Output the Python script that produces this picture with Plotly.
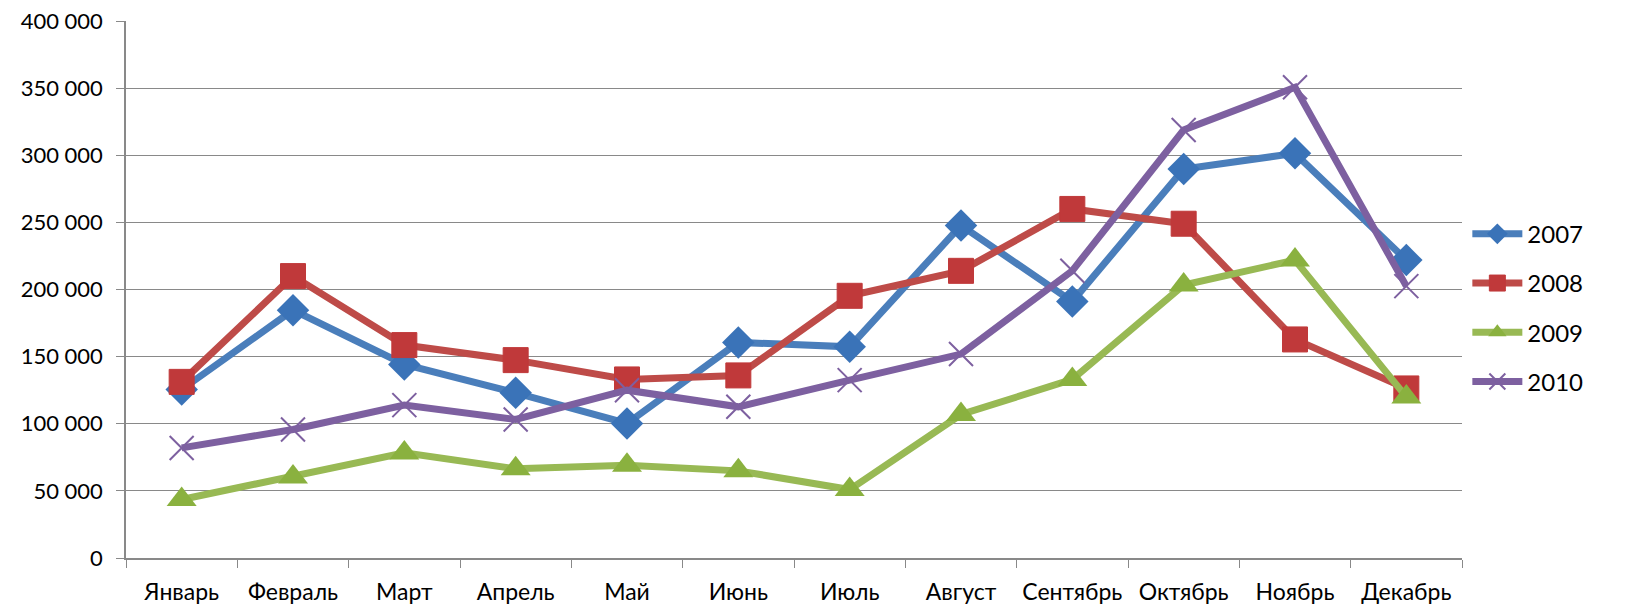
import plotly.graph_objects as go

months = ["Январь", "Февраль", "Март", "Апрель", "Май", "Июнь", "Июль",
          "Август", "Сентябрь", "Октябрь", "Ноябрь", "Декабрь"]
s2007 = [125500, 184600, 144200, 123000, 100200, 160600, 157300, 247700, 191000, 289700, 301400, 221900]
s2008 = [131200, 210000, 158600, 147400, 133000, 136000, 195300, 213900, 260000, 249000, 162800, 126300]
s2009 = [43600, 60400, 78300, 66400, 69100, 64900, 51000, 106900, 133000, 203300, 221900, 120000]
s2010 = [82000, 95700, 113900, 103200, 125000, 112600, 132500, 151900, 214000, 318800, 350600, 202500]
years = ["2007", "2008", "2009", "2010"]
y_ticks = [0, 50000, 100000, 150000, 200000, 250000, 300000, 350000, 400000]

styles = [
    dict(line="#4A7EBB", marker="#3A73B8", symbol="diamond", size=25, mline=0),
    dict(line="#BE4B48", marker="#C0393A", symbol="square", size=25, mline=1),
    dict(line="#98B954", marker="#8AB13F", symbol="triangle-up", size=26, mline=0),
    dict(line="#7D60A0", marker="#7D60A0", symbol="x-thin-open", size=24, mline=2),
]

FONT = "Lato, Roboto, sans-serif"
fig = go.Figure()
for name, vals, st in zip(years, [s2007, s2008, s2009, s2010], styles):
    fig.add_trace(go.Scatter(
        x=months, y=vals, name=name, mode="lines+markers",
        legendgroup=name,
        line=dict(color=st["line"], width=7),
        marker=dict(symbol=st["symbol"], size=st["size"], color=st["marker"],
                    line=dict(color=st["marker"], width=st["mline"])),
    ))

fig.update_layout(
    width=1626, height=607,
    margin=dict(l=118, r=172, t=13, b=57, autoexpand=False),
    paper_bgcolor="white", plot_bgcolor="white",
    separators=". ",
    font=dict(family=FONT, size=24, color="black"),
    showlegend=True,
    legend=dict(x=1.004, y=0.466, xanchor="left", yanchor="middle",
                font=dict(size=24, family=FONT), tracegroupgap=15,
                itemwidth=50),
)
fig.update_xaxes(
    type="category", range=[-0.5, 11.5], automargin=False, tickangle=0,
    showline=True, linecolor="#898989", linewidth=1.5,
    ticks="outside", tickson="boundaries", ticklen=8, tickcolor="#898989",
    showgrid=False, tickfont=dict(size=23, family=FONT), ticklabelstandoff=13,
    ticklabeloverflow="allow",
)
fig.update_yaxes(
    range=[0, 400000], tickvals=y_ticks, tickformat=",d", automargin=False,
    showline=True, linecolor="#898989", linewidth=1.5,
    ticks="outside", ticklen=8, tickcolor="#898989",
    showgrid=True, gridcolor="#898989", gridwidth=1.3,
    zeroline=False, tickfont=dict(size=22, family=FONT), ticklabelstandoff=9,
    ticklabeloverflow="allow",
)
fig.write_html("out.html")
